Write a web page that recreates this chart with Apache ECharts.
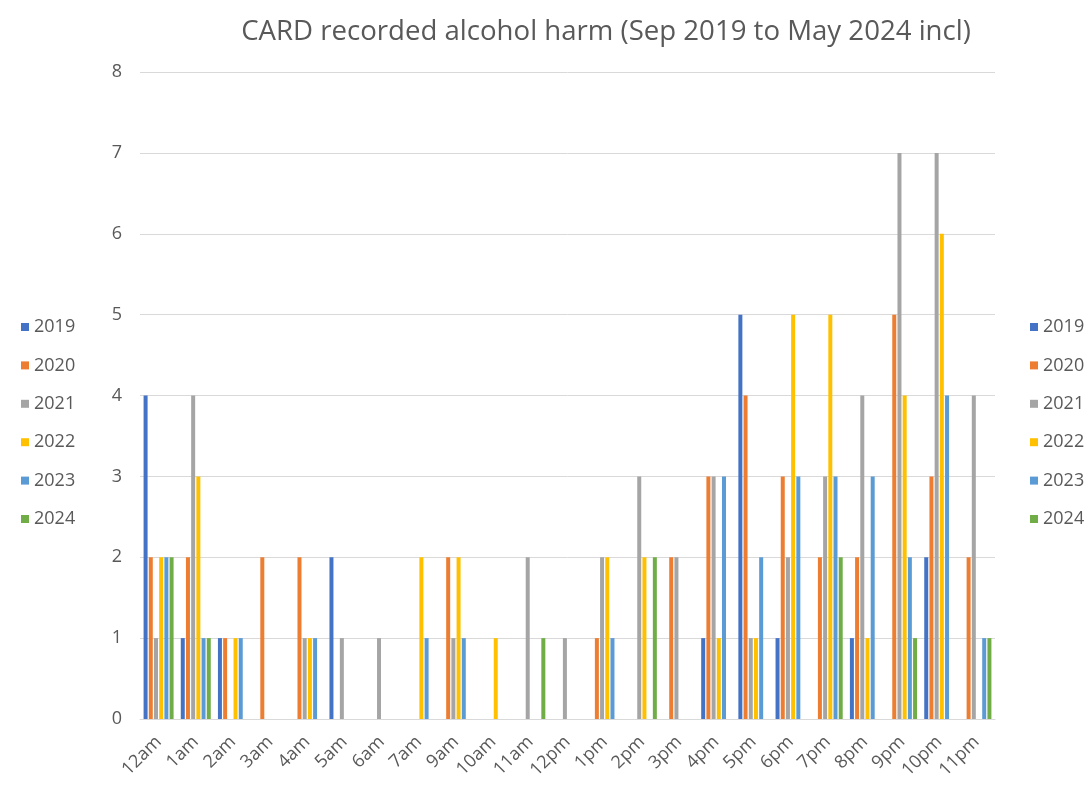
<!DOCTYPE html>
<html>
<head>
<meta charset="utf-8">
<script src="https://cdn.jsdelivr.net/npm/echarts@6/dist/echarts.min.js"></script>
<style>html,body{margin:0;padding:0;background:#fff;}#c{width:1085px;height:787px;}</style>
</head>
<body>
<div id="c"></div>
<script>
const categories = ['12am','1am','2am','3am','4am','5am','6am','7am','9am','10am','11am','12pm','1pm','2pm','3pm','4pm','5pm','6pm','7pm','8pm','9pm','10pm','11pm'];
const seriesNames = ['2019','2020','2021','2022','2023','2024'];
const v2019 = [4,1,1,0,0,2,0,0,0,0,0,0,0,0,0,1,5,1,0,1,0,2,0];
const v2020 = [2,2,1,2,2,0,0,0,2,0,0,0,1,0,2,3,4,3,2,2,5,3,2];
const v2021 = [1,4,0,0,1,1,1,0,1,0,2,1,2,3,2,3,1,2,3,4,7,7,4];
const v2022 = [2,3,1,0,1,0,0,2,2,1,0,0,2,2,0,1,1,5,5,1,4,6,0];
const v2023 = [2,1,1,0,1,0,0,1,1,0,0,0,1,0,0,3,2,3,3,3,2,4,1];
const v2024 = [2,1,0,0,0,0,0,0,0,0,1,0,0,2,0,0,0,0,2,0,1,0,1];
const yTicks = [0,1,2,3,4,5,6,7,8];

const allValues = [v2019, v2020, v2021, v2022, v2023, v2024];
const colors = ['#4472C4','#ED7D31','#A5A5A5','#FFC000','#5B9BD5','#70AD47'];

const chart = echarts.init(document.getElementById('c'));
const fontFam = '"Open Sans", Lato, sans-serif';
const legendBase = {
  orient: 'vertical',
  top: 312,
  itemWidth: 8,
  itemHeight: 8,
  itemGap: 18.4,
  icon: 'rect',
  textStyle: { fontSize: 18, color: '#595959', fontFamily: fontFam, lineHeight: 20 },
  data: seriesNames
};
chart.setOption({
  animation: false,
  backgroundColor: '#fff',
  color: colors,
  title: {
    text: 'CARD recorded alcohol harm (Sep 2019 to May 2024 incl)',
    left: 601, top: 13, textAlign: 'center',
    textStyle: { fontSize: 27.6, fontWeight: 'normal', color: '#595959', fontFamily: fontFam }
  },
  legend: [
    Object.assign({}, legendBase, { left: 16 }),
    Object.assign({}, legendBase, { left: 1025 })
  ],
  grid: { left: 140, right: 90, top: 72, bottom: 68, containLabel: false },
  xAxis: {
    type: 'category',
    data: categories,
    axisLine: { show: true, lineStyle: { color: '#D9D9D9' } },
    axisTick: { show: false },
    axisLabel: { rotate: 45, fontSize: 18, color: '#595959', fontFamily: fontFam, margin: 20, interval: 0 }
  },
  yAxis: {
    type: 'value',
    min: 0, max: 8, interval: 1,
    axisLine: { show: false },
    axisTick: { show: false },
    splitLine: { lineStyle: { color: '#D9D9D9' } },
    axisLabel: { fontSize: 18, color: '#595959', fontFamily: fontFam, margin: 18,
      formatter: v => yTicks.includes(v) ? String(v) : '' }
  },
  series: seriesNames.map((n, i) => ({
    name: n,
    type: 'bar',
    data: allValues[i],
    barWidth: 4,
    barGap: '30%',
    itemStyle: { color: colors[i] }
  }))
});
</script>
</body>
</html>
